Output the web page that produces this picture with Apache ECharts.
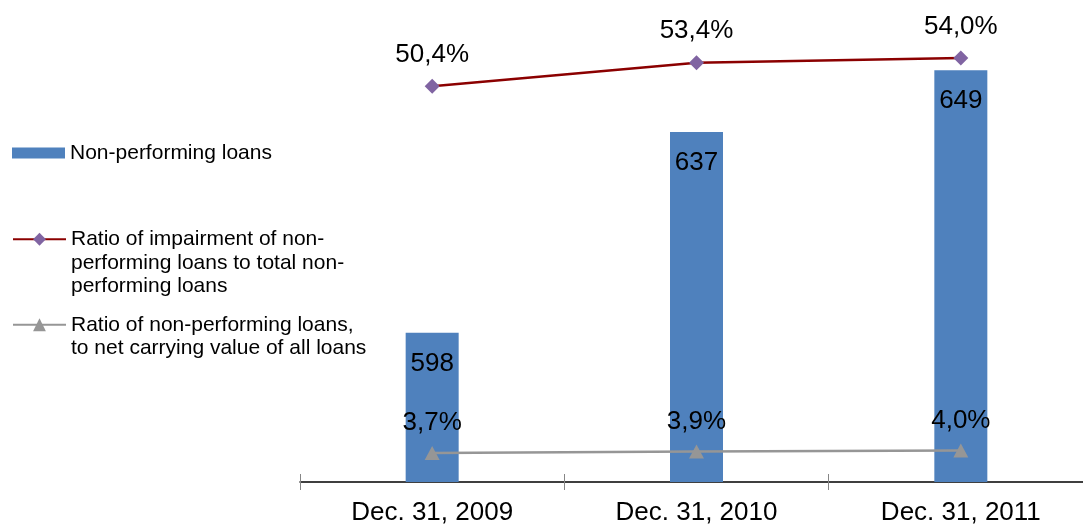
<!DOCTYPE html>
<html>
<head>
<meta charset="utf-8">
<script src="https://cdn.jsdelivr.net/npm/echarts@6/dist/echarts.min.js"></script>
<style>
  html, body { margin: 0; padding: 0; background: #fff; overflow: hidden; }
  /* the category axis runs a little past the right edge of the view */
  #chart { width: 1093px; height: 525px; }
</style>
</head>
<body>
<div id="chart"></div>
<script>
// Reporting dates
const categories = ['Dec. 31, 2009', 'Dec. 31, 2010', 'Dec. 31, 2011'];
// Non-performing loans (bars)
const nplValues = [598, 637, 649];
// Ratio of impairment of NPLs to total NPLs, %
const impairmentRatio = [50.4, 53.4, 54.0];
// Ratio of NPLs to net carrying value of all loans, %
const nplShare = [3.7, 3.9, 4.0];

const seriesNames = [
  'Non-performing loans',
  'Ratio of impairment of non-\nperforming loans to total non-\nperforming loans',
  'Ratio of non-performing loans,\nto net carrying value of all loans'
];

const FONT = '"Liberation Sans", Arial, sans-serif';
const pct = v => v.toFixed(1).replace('.', ',') + '%';

// Legend text is vertically centred on its icon; leading blank lines
// put the first text line level with the icon instead.
const topAligned = name => {
  const extra = name.split('\n').length - 1;
  return '\n'.repeat(extra) + name;
};

const legendText = { fontFamily: FONT, fontSize: 21, color: '#000', lineHeight: 23.5 };

const chart = echarts.init(document.getElementById('chart'), null, { renderer: 'canvas' });
chart.setOption({
  backgroundColor: '#fff',
  animation: false,
  grid: { left: 300, top: 11, right: 0, bottom: 43, containLabel: false, outerBoundsMode: 'none' },
  legend: [
    {
      data: [seriesNames[0]], left: 12, top: 141.3, padding: 0,
      icon: 'rect', itemWidth: 53, itemHeight: 11, selectedMode: false,
      textStyle: legendText
    },
    {
      data: [seriesNames[1]], left: 12, top: 180.5, padding: 0,
      itemWidth: 53, itemHeight: 16, selectedMode: false,
      formatter: topAligned,
      lineStyle: { width: 2 },
      textStyle: legendText
    },
    {
      data: [seriesNames[2]], left: 12, top: 289.5, padding: 0,
      itemWidth: 53, itemHeight: 16, selectedMode: false,
      formatter: topAligned,
      lineStyle: { width: 2 },
      textStyle: legendText
    }
  ],
  xAxis: [
    {
      type: 'category', data: categories, boundaryGap: true,
      axisLine: { lineStyle: { color: '#000', width: 1.5 } },
      axisTick: { show: true, length: 8, lineStyle: { color: '#868686', width: 1 } },
      axisLabel: { fontFamily: FONT, fontSize: 26, color: '#000', margin: 18, interval: 0 }
    },
    {
      // inner half of the cross tick marks
      type: 'category', data: categories, boundaryGap: true, position: 'bottom',
      axisLine: { show: false },
      axisTick: { show: true, inside: true, length: 8, lineStyle: { color: '#868686', width: 1 } },
      axisLabel: { show: false }
    }
  ],
  yAxis: [
    { type: 'value', min: 569, max: 660.5, show: false, splitLine: { show: false } },
    { type: 'value', min: 0, max: 60, show: false, splitLine: { show: false } }
  ],
  series: [
    {
      name: seriesNames[0], type: 'bar', data: nplValues, barWidth: 53,
      xAxisIndex: 0, yAxisIndex: 0,
      itemStyle: { color: '#4F81BD' },
      label: { show: true, position: 'insideTop', distance: 18,
        fontFamily: FONT, fontSize: 26, color: '#000' },
      z: 2
    },
    {
      name: seriesNames[1], type: 'line', data: impairmentRatio,
      xAxisIndex: 0, yAxisIndex: 1,
      symbol: 'diamond', symbolSize: 15,
      lineStyle: { color: '#8B0000', width: 2.5 },
      itemStyle: { color: '#8064A2' },
      label: { show: true, position: 'top', distance: 11, formatter: p => pct(p.value),
        fontFamily: FONT, fontSize: 26, color: '#000' },
      z: 3
    },
    {
      name: seriesNames[2], type: 'line', data: nplShare,
      xAxisIndex: 0, yAxisIndex: 1,
      symbol: 'triangle', symbolSize: [15, 14],
      lineStyle: { color: '#969696', width: 2.5 },
      itemStyle: { color: '#969696' },
      label: { show: true, position: 'top', distance: 10, formatter: p => pct(p.value),
        fontFamily: FONT, fontSize: 26, color: '#000' },
      z: 3
    }
  ]
});
</script>
</body>
</html>
